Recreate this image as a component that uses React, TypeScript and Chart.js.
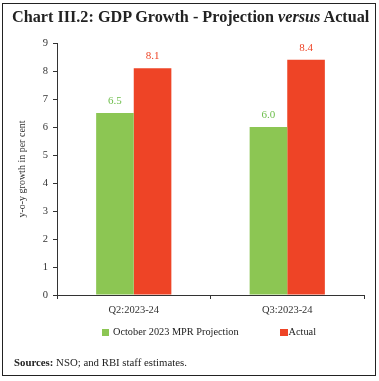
import React, { useEffect, useRef } from "react";
import { Chart, registerables } from "chart.js";

Chart.register(...registerables);

const categories = ["Q2:2023-24", "Q3:2023-24"];
const projection = [6.5, 6.0];
const actual = [8.1, 8.4];
const seriesNames = ["October 2023 MPR Projection", "Actual"];
const yTicks = [0, 1, 2, 3, 4, 5, 6, 7, 8, 9];

const GREEN = "#8CC653";
const RED = "#EE4426";
const GREEN_TEXT = "#6DBE4B";
const SERIF = "'Liberation Serif', 'DejaVu Serif', serif";

const valueLabels = {
  id: "valueLabels",
  afterDatasetsDraw(chart: any) {
    const ctx = chart.ctx;
    ctx.save();
    ctx.font = `11px ${SERIF}`;
    ctx.textAlign = "center";
    ctx.textBaseline = "middle";
    chart.data.datasets.forEach((ds: any, i: number) => {
      const meta = chart.getDatasetMeta(i);
      ctx.fillStyle = i === 0 ? GREEN_TEXT : RED;
      meta.data.forEach((bar: any, j: number) => {
        ctx.fillText(Number(ds.data[j]).toFixed(1), bar.x, bar.y - 12);
      });
    });
    ctx.restore();
  },
};

export default function App() {
  const ref = useRef<HTMLCanvasElement>(null);
  useEffect(() => {
    const c = new Chart(ref.current!, {
      type: "bar",
      data: {
        labels: categories,
        datasets: [
          { label: seriesNames[0], data: projection, backgroundColor: GREEN, borderWidth: 0 },
          { label: seriesNames[1], data: actual, backgroundColor: RED, borderWidth: 0 },
        ],
      },
      options: {
        responsive: false,
        animation: false,
        devicePixelRatio: 1,
        layout: { padding: { left: 0, top: 43, right: 15, bottom: 0 } },
        plugins: { legend: { display: false }, tooltip: { enabled: false } },
        datasets: { bar: { barPercentage: 1, categoryPercentage: 0.49 } },
        scales: {
          x: {
            afterFit: (s: any) => { s.height = 86; },
            grid: { display: true, drawOnChartArea: false, tickLength: 4, color: "#333", offset: true },
            border: { display: true, color: "#333", width: 1 },
            ticks: { color: "#333", font: { family: SERIF, size: 10.5 }, padding: 5, maxRotation: 0 },
          },
          y: {
            min: 0,
            max: 9,
            afterFit: (s: any) => { s.width = 57; },
            afterBuildTicks: (s: any) => { s.ticks = yTicks.map((v) => ({ value: v })); },
            grid: { display: true, drawOnChartArea: false, tickLength: 4, color: "#333" },
            border: { display: true, color: "#333", width: 1 },
            ticks: { color: "#333", font: { family: SERIF, size: 10.5 }, padding: 5 },
            title: {
              display: true,
              text: "y-o-y growth in per cent",
              color: "#333",
              font: { family: SERIF, size: 10 },
              padding: { top: 16, bottom: 0 },
            },
          },
        },
      },
      plugins: [valueLabels],
    });
    return () => c.destroy();
  }, []);

  return (
    <div style={{ position: "fixed", left: 0, top: 0, width: 379, height: 381, background: "#fff", fontFamily: SERIF, color: "#222" }}>
      <canvas ref={ref} width={379} height={381} style={{ position: "absolute", left: 0, top: 0 }} />
      <div style={{ position: "absolute", left: 2, top: 3, width: 374, height: 373, border: "1.5px solid #222", boxSizing: "border-box", pointerEvents: "none" }} />
      <div style={{ position: "absolute", left: 12, top: 8, fontSize: 16.2, fontWeight: "bold", whiteSpace: "nowrap", color: "#222" }}>
        Chart III.2: GDP Growth - Projection <i>versus</i> Actual
      </div>
      <div style={{ position: "absolute", left: 102, top: 325, fontSize: 10.3, lineHeight: "14px", whiteSpace: "nowrap", color: "#222", display: "flex", alignItems: "center" }}>
        <span style={{ display: "inline-block", width: 7, height: 7, background: GREEN, marginRight: 4 }} />
        <span>{seriesNames[0]}</span>
        <span style={{ display: "inline-block", width: 8, height: 7, background: RED, marginLeft: 41, marginRight: 1 }} />
        <span>{seriesNames[1]}</span>
      </div>
      <div style={{ position: "absolute", left: 14, top: 355, fontSize: 10.8, lineHeight: "14px", whiteSpace: "nowrap", color: "#222" }}>
        <b>Sources:</b> NSO; and RBI staff estimates.
      </div>
    </div>
  );
}
